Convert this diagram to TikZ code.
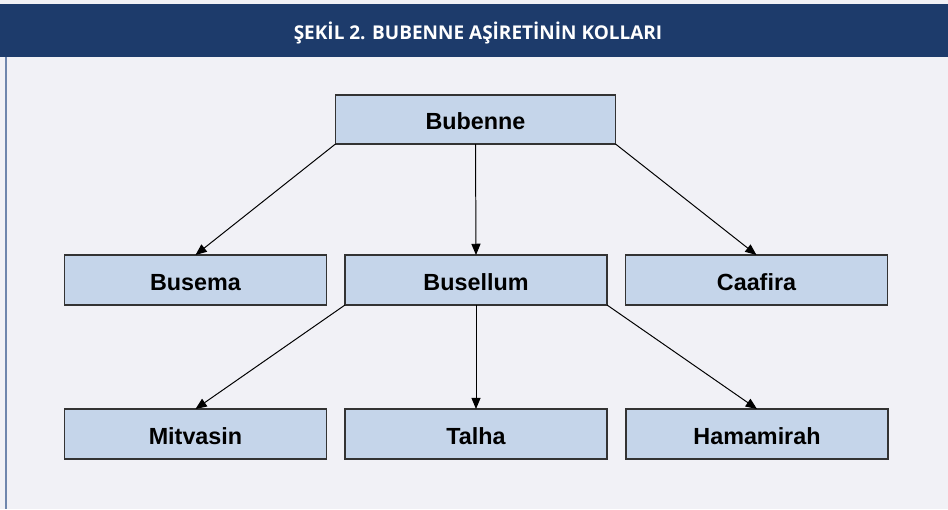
\documentclass[tikz,border=0pt]{standalone}
\usepackage{fontspec}
\setmainfont{Liberation Sans}
\newfontfamily\headfont{Open Sans}
\usepackage{tikz}
\usetikzlibrary{arrows.meta}
\definecolor{headblue}{HTML}{1D3B6B}
\definecolor{pagebg}{HTML}{F1F1F6}
\definecolor{boxfill}{HTML}{C5D5EA}
\definecolor{boxline}{HTML}{333333}
\definecolor{sideline}{HTML}{6F86AD}

\begin{document}
\begin{tikzpicture}[x=0.025cm,y=-0.025cm,
  kol/.style={draw=boxline,line width=1pt,fill=boxfill,outer sep=0pt,
    minimum width=6.55cm,minimum height=1.25cm,text height=14.7pt,text depth=0pt,
    font=\fontsize{16.6}{18}\selectfont\bfseries},
  link/.style={line width=0.7pt,-{Triangle[length=8pt,width=6.5pt]}}]
\useasboundingbox (0,0) rectangle (948,509);
\fill[pagebg] (0,0) rectangle (948,509);
\fill[headblue] (0,3.5) rectangle (948,57);
\draw[sideline,line width=0.8pt] (6,57) -- (6,509);
\node[text=white,text height=9.6pt,text depth=0pt,
  font=\headfont\fontsize{13.5}{15}\selectfont\bfseries] (title) at (478,33)
  {ŞEKİL 2. BUBENNE AŞİRETİNİN KOLLARI};

% tree
\node[kol,minimum width=7cm,minimum height=1.225cm] (bubenne) at (475.5,119.5) {Bubenne};
\node[kol] (busema) at (195.5,280) {Busema};
\node[kol] (busellum) at (476,280) {Busellum};
\node[kol] (caafira) at (756.5,280) {Caafira};
\node[kol] (mitvasin) at (195.5,434) {Mitvasin};
\node[kol] (talha) at (476,434) {Talha};
\node[kol] (hamamirah) at (757,434) {Hamamirah};

\draw[link] (bubenne.south west) -- (busema.north);
\draw[link] (bubenne.south) -- (busellum.north);
\draw[link] (bubenne.south east) -- (caafira.north);
\draw[link] (busellum.south west) -- (mitvasin.north);
\draw[link] (busellum.south) -- (talha.north);
\draw[link] (busellum.south east) -- (hamamirah.north);
\end{tikzpicture}
\end{document}
